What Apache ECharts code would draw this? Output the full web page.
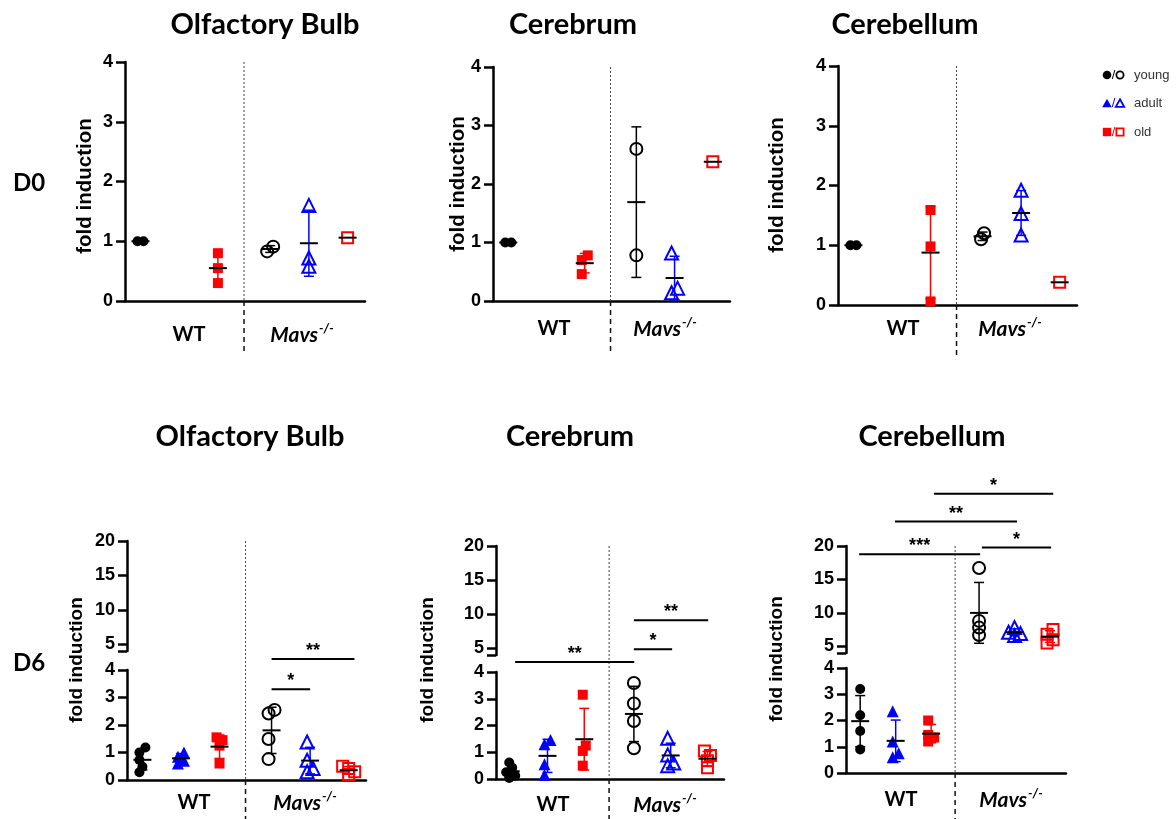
<!DOCTYPE html>
<html><head><meta charset="utf-8">
<script src="https://cdn.jsdelivr.net/npm/echarts@6/dist/echarts.min.js"></script>
<style>html,body{margin:0;padding:0;background:#fff}#c{width:1176px;height:819px}</style>
</head><body><div id="c"></div>
<script>
// ---------- data ----------
const groupNames = ['WT young', 'WT adult', 'WT old', 'Mavs young', 'Mavs adult', 'Mavs old'];
const groupX = [1, 2, 3, 4.35, 5.35, 6.35];
const dividerX = 3.675;
const regionTitles = ['Olfactory Bulb', 'Cerebrum', 'Cerebellum'];
const dayLabels = ['D0', 'D6'];
const legendLabels = ['young', 'adult', 'old'];
const d0Ticks = [0, 1, 2, 3, 4];
const d6LowerTicks = [0, 1, 2, 3, 4];
const d6UpperTicks = [5, 10, 15, 20];

// values per group: WT young, WT adult, WT old, Mavs young, Mavs adult, Mavs old
const d0OlfactoryBulb = [[1.0, 1.0], [], [0.8, 0.55, 0.3], [0.83, 0.91], [1.6, 0.72, 0.58], [1.06]];
const d0Cerebrum      = [[1.0, 1.0], [], [0.78, 0.7, 0.46], [2.6, 0.78], [0.82, 0.22, 0.14], [2.38]];
const d0Cerebellum    = [[1.0, 1.0], [], [1.59, 0.98, 0.06], [1.1, 1.2], [1.92, 1.53, 1.17], [0.38]];
const d6OlfactoryBulb = [[1.18, 1.0, 0.73, 0.48, 0.28], [1.0, 0.85, 0.7, 0.6], [1.55, 1.45, 1.25, 0.6],
                         [2.55, 2.42, 1.49, 0.76], [1.38, 0.72, 0.42, 0.3], [0.5, 0.42, 0.3, 0.2]];
const d6Cerebrum      = [[0.62, 0.42, 0.25, 0.12, 0.04], [1.46, 1.3, 0.55, 0.15], [3.15, 1.25, 1.05, 0.5],
                         [3.59, 2.82, 2.17, 1.15], [1.52, 0.9, 0.6, 0.5], [1.05, 0.88, 0.68, 0.42]];
const d6Cerebellum    = [[3.2, 2.2, 1.6, 0.9], [2.35, 1.2, 0.75, 0.6], [2.0, 1.45, 1.35, 1.2],
                         [16.7, 8.8, 7.8, 6.7], [7.8, 7.1, 6.9, 6.6], [7.5, 6.8, 6.0, 5.5]];

// significance brackets: [x from, x to, axis segment, y value, label]
const d6OlfactoryBulbSig = [[4.35, 5.35, 'lo', 3.3, '*'], [4.35, 6.5, 'lo', 4.4, '**']];
const d6CerebrumSig      = [[1.12, 4.36, 'lo', 4.37, '**'], [4.35, 5.39, 'up', 4.85, '*'], [4.35, 6.37, 'up', 9.1, '**']];
const d6CerebellumSig    = [[0.97, 4.38, 'up', 18.75, '***'], [4.43, 6.38, 'up', 19.76, '*'],
                            [1.98, 5.42, 'up', 23.65, '**'], [3.08, 6.44, 'up', 27.8, '*']];

// ---------- layout ----------
const XMIN = 0.6, XMAX = 6.8;
const panels = [
  {title: regionTitles[0], day: 0, data: d0OlfactoryBulb, sig: [], grid: [125, 62, 240, 239], titleXY: [265, 25], yTitleXY: [85, 186], wtXY: [189, 335], mavsXY: [302, 335]},
  {title: regionTitles[1], day: 0, data: d0Cerebrum, sig: [], grid: [493, 67, 237, 234], titleXY: [573, 25], yTitleXY: [458, 184], wtXY: [554, 329], mavsXY: [665, 329]},
  {title: regionTitles[2], day: 0, data: d0Cerebellum, sig: [], grid: [838, 66, 239, 239], titleXY: [905, 25], yTitleXY: [777, 185], wtXY: [903, 329], mavsXY: [1010, 329]},
  {title: regionTitles[0], day: 6, data: d6OlfactoryBulb, sig: d6OlfactoryBulbSig, up: [127, 541, 239, 110], lo: [127, 670, 239, 110], titleXY: [250, 437], yTitleXY: [77, 660], wtXY: [194, 803], mavsXY: [305, 803]},
  {title: regionTitles[1], day: 6, data: d6Cerebrum, sig: d6CerebrumSig, up: [496, 546, 228, 109], lo: [496, 672, 228, 107], titleXY: [570, 437], yTitleXY: [428, 660], wtXY: [553, 805], mavsXY: [665, 805]},
  {title: regionTitles[2], day: 6, data: d6Cerebellum, sig: d6CerebellumSig, up: [846, 546, 220, 107], lo: [846, 668, 220, 105], titleXY: [932, 437], yTitleXY: [777, 659], wtXY: [901, 800], mavsXY: [1011, 800]}
];
const ageColors = ['#000000', '#0000ff', '#ff0000'];
const ageSymbols = ['circle', 'triangle', 'rect'];
const filledSizes = [10, 12, 10];
const openSizes = [12, 13, 11];

const AX = '#000';
const tickFont = {fontSize: 18, fontWeight: 'bold', color: '#000', fontFamily: 'Liberation Sans', margin: 12};

const grids = [], xAxes = [], yAxes = [], series = [];

function addGrid(rect, kind) {
  const i = grids.length;
  grids.push({left: rect[0], top: rect[1], width: rect[2], height: rect[3], containLabel: false});
  xAxes.push({type: 'value', gridIndex: i, min: XMIN, max: XMAX, show: kind !== 'up',
    axisLine: {show: true, onZero: false, lineStyle: {color: AX, width: 2.5}},
    axisTick: {show: false}, axisLabel: {show: false}, splitLine: {show: false}});
  const y = {type: 'value', gridIndex: i, splitLine: {show: false},
    axisLine: {show: true, onZero: false, lineStyle: {color: AX, width: 2.5}},
    axisTick: {show: true, length: 9, lineStyle: {color: AX, width: 2.5}},
    axisLabel: Object.assign({}, tickFont)};
  if (kind === 'up') {
    y.min = 4; y.max = 20;
    y.axisTick.customValues = [4].concat(d6UpperTicks);
    y.axisLabel.customValues = d6UpperTicks.slice();
  } else {
    const t = kind === 'd0' ? d0Ticks : d6LowerTicks;
    y.min = t[0]; y.max = t[t.length - 1]; y.interval = 1;
  }
  yAxes.push(y);
  return i;
}

function jitter(values, pxX, pxY) {
  const order = values.map((v, i) => i).sort((a, b) => values[a] - values[b]);
  const placed = [], off = new Array(values.length).fill(0);
  const step = 3, D = 6;
  const cands = [0];
  for (let k = 1; k < 8; k++) cands.push(k * step, -k * step);
  for (const i of order) {
    let chosen = cands[cands.length - 1];
    for (const c of cands) {
      if (placed.every(p => Math.hypot(p.dx - c, (p.v - values[i]) * pxY) >= D)) { chosen = c; break; }
    }
    placed.push({dx: chosen, v: values[i]});
    off[i] = chosen;
  }
  const c = (Math.min(...off) + Math.max(...off)) / 2;
  return off.map(o => (o - c) / pxX);
}
function mean(a) { return a.reduce((s, v) => s + v, 0) / a.length; }
function sd(a) {
  if (a.length < 2) return 0;
  const m = mean(a);
  return Math.sqrt(a.reduce((s, v) => s + (v - m) * (v - m), 0) / (a.length - 1));
}

const statsRender = function (params, api) {
  const x = api.value(0), m = api.value(1), s = api.value(2), col = ageColors[api.value(3)];
  const c = api.coord([x, m]);
  const ch = [];
  if (s > 0) {
    const t = api.coord([x, m + s]), b = api.coord([x, m - s]);
    ch.push({type: 'line', shape: {x1: c[0], y1: t[1], x2: c[0], y2: b[1]}, style: {stroke: col, lineWidth: 1.5}});
    ch.push({type: 'line', shape: {x1: c[0] - 5, y1: t[1], x2: c[0] + 5, y2: t[1]}, style: {stroke: col, lineWidth: 1.5}});
    ch.push({type: 'line', shape: {x1: c[0] - 5, y1: b[1], x2: c[0] + 5, y2: b[1]}, style: {stroke: col, lineWidth: 1.5}});
  }
  ch.push({type: 'line', shape: {x1: c[0] - 9, y1: c[1], x2: c[0] + 9, y2: c[1]}, style: {stroke: '#000', lineWidth: 2}});
  return {type: 'group', children: ch};
};

panels.forEach(p => {
  if (p.day === 0) {
    p.gTop = p.gBase = addGrid(p.grid, 'd0');
  } else {
    p.gTop = addGrid(p.up, 'up');
    p.gBase = addGrid(p.lo, 'lo');
  }
  const stats = {};
  p.data.forEach((vals, g) => {
    if (!vals.length) return;
    const onUp = p.day === 6 && Math.min(...vals) > 4;
    const gi = onUp ? p.gTop : p.gBase;
    const rect = onUp ? p.up : (p.day === 0 ? p.grid : p.lo);
    const yr = onUp ? 16 : 4;
    const pxX = rect[2] / (XMAX - XMIN), pxY = rect[3] / yr;
    const offs = jitter(vals, pxX, pxY);
    const age = g % 3, filled = g < 3, col = ageColors[age];
    series.push({
      type: 'scatter', name: groupNames[g], xAxisIndex: gi, yAxisIndex: gi, silent: true, z: 3,
      symbol: ageSymbols[age], symbolSize: filled ? filledSizes[age] : openSizes[age],
      itemStyle: filled ? {color: col, opacity: 1} : {color: 'rgba(255,255,255,0)', borderColor: col, borderWidth: 2, opacity: 1},
      data: vals.map((v, i) => [groupX[g] + offs[i], v])
    });
    (stats[gi] = stats[gi] || []).push([groupX[g], mean(vals), sd(vals), age]);
  });
  Object.keys(stats).forEach(gi => {
    series.push({type: 'custom', xAxisIndex: +gi, yAxisIndex: +gi, silent: true, z: 4, renderItem: statsRender, data: stats[gi]});
  });
});

const chart = echarts.init(document.getElementById('c'), null, {renderer: 'canvas'});
chart.setOption({
  animation: false, backgroundColor: '#fff',
  grid: grids, xAxis: xAxes, yAxis: yAxes, series: series
});

// ---------- annotations ----------
const gfx = [];
function txt(x, y, text, font, extra) {
  gfx.push(Object.assign({type: 'text', x: x, y: y, silent: true, z: 10,
    style: Object.assign({text: text, fill: '#000', align: 'center', verticalAlign: 'middle'}, font)}, extra || {}));
}
const titleFont = {fontFamily: 'Lato', fontWeight: 'bold', fontSize: 29};
const labFont = {fontFamily: 'Lato', fontWeight: 'bold', fontSize: 20};

txt(29, 183, dayLabels[0], {fontFamily: 'Lato', fontWeight: 'bold', fontSize: 24});
txt(29, 663, dayLabels[1], {fontFamily: 'Lato', fontWeight: 'bold', fontSize: 24});

panels.forEach(p => {
  txt(p.titleXY[0], p.titleXY[1], p.title, titleFont);
  txt(p.yTitleXY[0], p.yTitleXY[1], 'fold induction',
    {fontFamily: 'Liberation Sans', fontWeight: 'bold', fontSize: p.day === 0 ? 20.5 : 19}, {rotation: Math.PI / 2});
  txt(p.wtXY[0], p.wtXY[1], 'WT', labFont);
  gfx.push({type: 'text', x: p.mavsXY[0], y: p.mavsXY[1], silent: true, z: 10,
    style: {text: '{m|Mavs}{s|-/-}', align: 'center', verticalAlign: 'middle',
      rich: {m: {fontFamily: 'Lato', fontWeight: 'bold', fontStyle: 'italic', fontSize: 21, fill: '#000'},
             s: {fontFamily: 'Lato', fontWeight: 'bold', fontStyle: 'italic', fontSize: 13, fill: '#000', padding: [0, 0, 12, 1]}}}});
  // divider
  const topV = p.day === 0 ? 4 : 20;
  const top = chart.convertToPixel({gridIndex: p.gTop}, [dividerX, topV]);
  const base = chart.convertToPixel({gridIndex: p.gBase}, [dividerX, 0]);
  const bottom = p.day === 0 ? base[1] + 52 : 819;
  gfx.push({type: 'line', silent: true, z: 1, shape: {x1: top[0], y1: top[1], x2: top[0], y2: base[1]},
    style: {stroke: '#444', lineWidth: 1, lineDash: [2, 2]}});
  gfx.push({type: 'line', silent: true, z: 1, shape: {x1: top[0], y1: base[1], x2: top[0], y2: bottom},
    style: {stroke: '#111', lineWidth: 1.5, lineDash: [5, 4]}});
  // significance brackets
  p.sig.forEach(s => {
    const gi = s[2] === 'up' ? p.gTop : p.gBase;
    const a = chart.convertToPixel({gridIndex: gi}, [s[0], s[3]]);
    const b = chart.convertToPixel({gridIndex: gi}, [s[1], s[3]]);
    gfx.push({type: 'line', silent: true, z: 5, shape: {x1: a[0], y1: a[1], x2: b[0], y2: b[1]}, style: {stroke: '#000', lineWidth: 2}});
    gfx.push({type: 'text', x: (a[0] + b[0]) / 2, y: a[1] + 1, silent: true, z: 5,
      style: {text: s[4], fill: '#000', align: 'center', verticalAlign: 'bottom', fontFamily: 'Liberation Sans', fontWeight: 'bold', fontSize: 18}});
  });
});

// legend: filled symbol / open symbol, then label
function legendShape(kind, cx, cy, filled, col) {
  const st = filled ? {fill: col, stroke: null} : {fill: 'rgba(0,0,0,0)', stroke: col, lineWidth: 1.8};
  if (kind === 0) return {type: 'circle', shape: {cx: cx, cy: cy, r: filled ? 4.3 : 3.6}, style: st, silent: true, z: 10};
  if (kind === 1) {
    const h = filled ? 4.8 : 4.2;
    return {type: 'polygon', shape: {points: [[cx, cy - h], [cx + h, cy + h * 0.8], [cx - h, cy + h * 0.8]]}, style: st, silent: true, z: 10};
  }
  const s = filled ? 4.2 : 3.6;
  return {type: 'rect', shape: {x: cx - s, y: cy - s, width: 2 * s, height: 2 * s}, style: st, silent: true, z: 10};
}
legendLabels.forEach((l, i) => {
  const y = 75 + i * 28.5, col = ageColors[i];
  gfx.push(legendShape(i, 1107, y, true, col));
  gfx.push({type: 'text', x: 1113.5, y: y, silent: true, z: 10,
    style: {text: '/', fill: col, align: 'center', verticalAlign: 'middle', fontFamily: 'Liberation Sans', fontSize: 13}});
  gfx.push(legendShape(i, 1120, y, false, col));
  gfx.push({type: 'text', x: 1134, y: y, silent: true, z: 10,
    style: {text: l, fill: '#333', align: 'left', verticalAlign: 'middle', fontFamily: 'Liberation Sans', fontSize: 13}});
});

chart.setOption({graphic: gfx});
</script>
</body></html>
